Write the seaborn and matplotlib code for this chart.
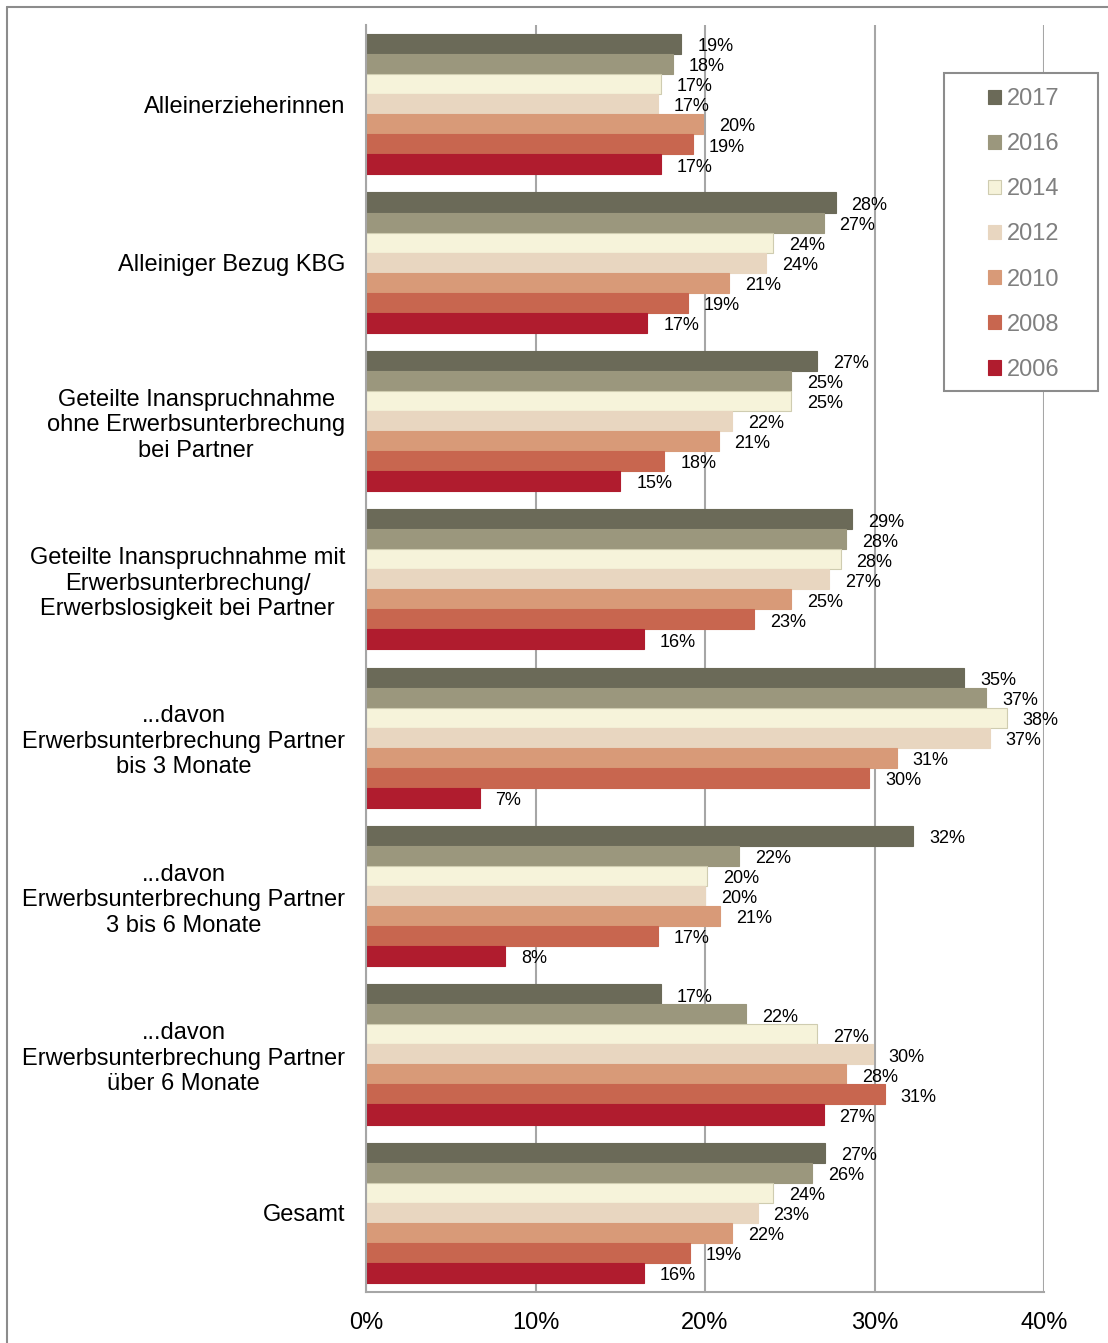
import numpy as np
import pandas as pd
import matplotlib.pyplot as plt
import seaborn as sns
from matplotlib.patches import Patch, Rectangle
from matplotlib.lines import Line2D

categories = [
    'Alleinerzieherinnen',
    'Alleiniger Bezug KBG',
    'Geteilte Inanspruchnahme\nohne Erwerbsunterbrechung\nbei Partner',
    'Geteilte Inanspruchnahme mit\nErwerbsunterbrechung/\nErwerbslosigkeit bei Partner',
    '...davon\nErwerbsunterbrechung Partner\nbis 3 Monate',
    '...davon\nErwerbsunterbrechung Partner\n3 bis 6 Monate',
    '...davon\nErwerbsunterbrechung Partner\nüber 6 Monate',
    'Gesamt',
]
years = ['2017', '2016', '2014', '2012', '2010', '2008', '2006']

v2017 = [18.6, 27.7, 26.6, 28.7, 35.3, 32.3, 17.4, 27.1]
v2016 = [18.1, 27.0, 25.1, 28.3, 36.6, 22.0, 22.4, 26.3]
v2014 = [17.4, 24.0, 25.1, 28.0, 37.8, 20.1, 26.6, 24.0]
v2012 = [17.2, 23.6, 21.6, 27.3, 36.8, 20.0, 29.9, 23.1]
v2010 = [19.9, 21.4, 20.8, 25.1, 31.3, 20.9, 28.3, 21.6]
v2008 = [19.3, 19.0, 17.6, 22.9, 29.7, 17.2, 30.6, 19.1]
v2006 = [17.4, 16.6, 15.0, 16.4, 6.7, 8.2, 27.0, 16.4]

colors = ['#6b6a58', '#9b977d', '#f6f3da', '#e8d6c0', '#d89a78', '#c8664f', '#b01c2e']
edges = ['#6b6a58', '#9b977d', '#cfccb0', '#e8d6c0', '#d89a78', '#c8664f', '#b01c2e']

values = [v2017, v2016, v2014, v2012, v2010, v2008, v2006]
rows = []
for yr, vals in zip(years, values):
    for cat, v in zip(categories, vals):
        rows.append({'category': cat, 'year': yr, 'value': v})
df = pd.DataFrame(rows)

sns.set_style('white')
plt.rcParams['font.family'] = ['Liberation Sans', 'DejaVu Sans']
plt.rcParams['text.color'] = 'black'
plt.rcParams['xtick.color'] = 'black'
plt.rcParams['ytick.color'] = 'black'

fig = plt.figure(figsize=(11.08, 13.43), dpi=100)
ax = fig.add_axes([366 / 1108, 1 - 1292 / 1343, (1044 - 366) / 1108, (1292 - 25) / 1343])

sns.barplot(data=df, x='value', y='category', hue='year', hue_order=years,
            order=categories, palette=dict(zip(years, colors)), orient='h',
            width=0.885, gap=0, saturation=1, legend=False, ax=ax)

for cont, vals, ec in zip(ax.containers, values, edges):
    for bar in cont:
        bar.set_edgecolor(ec)
        bar.set_linewidth(0.8)
    texts = ax.bar_label(cont, labels=[f'{round(v)}%' for v in vals], padding=11,
                         fontsize=13, color='black')
    for t in texts:
        t.xyann = (11.5, -2)

grey = '#a6a6a6'
ax.set_xlim(0, 40)
ax.set_ylim(7.5, -0.5)
ax.set_xticks([0, 10, 20, 30, 40])
ax.set_xticklabels(['0%', '10%', '20%', '30%', '40%'])
ax.xaxis.grid(True, color=grey, lw=1.5)
ax.set_axisbelow(True)
for s in ['top', 'right']:
    ax.spines[s].set_visible(False)
for s in ['left', 'bottom']:
    ax.spines[s].set_color(grey)
    ax.spines[s].set_linewidth(1.5)

ax.set_yticks(range(len(categories)))
ax.set_yticklabels(categories)
ax.set_yticks(np.arange(-0.5, len(categories)), minor=True)
ax.tick_params(axis='y', which='major', length=0, pad=15, labelsize=17, labelcolor='black')
ax.tick_params(axis='y', which='minor', length=6, width=1.5, color=grey)
ax.tick_params(axis='x', length=4.5, width=1.5, color=grey, pad=10, labelsize=17,
               labelcolor='black')
for lbl in ax.get_yticklabels():
    lbl.set_multialignment('center')
ax.set_xlabel('')
ax.set_ylabel('')

# legend box
fig.add_artist(Rectangle((944 / 1108, 1 - 391 / 1343), 154 / 1108, 318 / 1343,
                         transform=fig.transFigure, facecolor='white',
                         edgecolor='#8c8c8c', lw=1.5, zorder=3))
handles = [Patch(facecolor=c, edgecolor=e, lw=0.8) for c, e in zip(colors, edges)]
leg = fig.legend(handles, years, loc='upper left', bbox_to_anchor=(988 / 1108, 1 - 88 / 1343),
                 frameon=False, fontsize=17, handlelength=0.55, handleheight=0.55,
                 handletextpad=0.25, labelspacing=0.98, borderpad=0, borderaxespad=0)
leg.set_zorder(4)
for t in leg.get_texts():
    t.set_color('#7f7f7f')

# outer frame (top and left)
fig.add_artist(Line2D([7 / 1108, 7 / 1108], [0, 1 - 7 / 1343], color='#8c8c8c', lw=1.5))
fig.add_artist(Line2D([7 / 1108, 1], [1 - 7 / 1343, 1 - 7 / 1343], color='#8c8c8c', lw=1.5))

fig.savefig('out.png', dpi=100)
